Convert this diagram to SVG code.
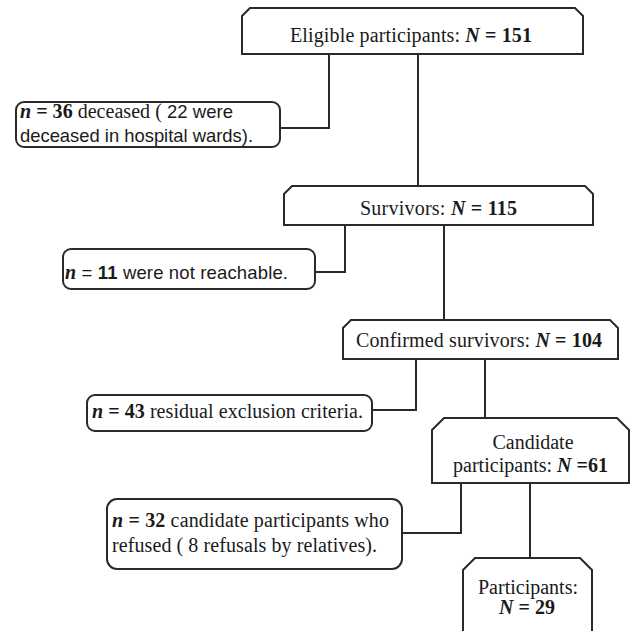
<svg xmlns="http://www.w3.org/2000/svg" width="632" height="631" viewBox="0 0 632 631">
<style>
.box{fill:#fff;stroke:#2a2a2a;stroke-width:2}
.con{fill:none;stroke:#2a2a2a;stroke-width:2}
text{fill:#1a1a1a;font-size:20px}
.s{font-family:"Liberation Serif","Times New Roman",serif}
.a{font-family:"Liberation Sans",Arial,sans-serif;font-size:18.5px}
.b{font-weight:bold}
.i{font-style:italic}
</style>
<rect width="632" height="631" fill="#fff"/>
<g id="connectors">
<polyline class="con" points="329,54 329,128 280,128"/>
<polyline class="con" points="418,54 418,186"/>
<polyline class="con" points="345,225 345,272 315,272"/>
<polyline class="con" points="444,225 444,320"/>
<polyline class="con" points="416,359 416,410 372,410"/>
<polyline class="con" points="485,359 485,418"/>
<polyline class="con" points="461,483 461,533 402,533"/>
<polyline class="con" points="530,483 530,558"/>
</g>
<g id="eligible">
<path class="box" d="M242,54 V16 L250,8 H575 L583,16 V54 Z"/>
<text class="s" x="290" y="42" textLength="242" lengthAdjust="spacing">Eligible participants: <tspan class="b i">N</tspan><tspan class="b"> = 151</tspan></text>
</g>
<g id="deceased">
<rect class="box" x="16" y="102" width="264" height="45" rx="8"/>
<text x="20" y="118" textLength="213" lengthAdjust="spacing"><tspan class="s b i">n</tspan><tspan class="s b"> = 36</tspan><tspan class="s"> deceased (</tspan><tspan class="a"> 22 were</tspan></text>
<text class="a" x="20" y="142" textLength="233" lengthAdjust="spacingAndGlyphs">deceased in hospital wards).</text>
</g>
<g id="survivors">
<path class="box" d="M284,225 V194 L292,186 H585 L593,194 V225 Z"/>
<text class="s" x="360" y="215" textLength="157" lengthAdjust="spacing">Survivors: <tspan class="b i">N</tspan><tspan class="b"> = 115</tspan></text>
</g>
<g id="not-reachable">
<rect class="box" x="63" y="249" width="252" height="40" rx="8"/>
<text x="65" y="279" textLength="223" lengthAdjust="spacing"><tspan class="s b i">n</tspan><tspan class="a"> = </tspan><tspan class="a b">11</tspan><tspan class="a"> were not reachable.</tspan></text>
</g>
<g id="confirmed">
<path class="box" d="M343,359 V328 L351,320 H610 L618,328 V359 Z"/>
<text class="s" x="356" y="347" textLength="246" lengthAdjust="spacing">Confirmed survivors: <tspan class="b i">N</tspan><tspan class="b"> = 104</tspan></text>
</g>
<g id="residual">
<rect class="box" x="87" y="395" width="285" height="36" rx="8"/>
<text class="s" x="92" y="418" textLength="271" lengthAdjust="spacing"><tspan class="b i">n</tspan><tspan class="b"> = 43</tspan> residual exclusion criteria.</text>
</g>
<g id="candidate">
<path class="box" d="M432,483 V430 L444,418 H617 L629,430 V483 Z"/>
<text class="s" x="533" y="449" text-anchor="middle">Candidate</text>
<text class="s" x="453" y="472" textLength="155" lengthAdjust="spacing">participants: <tspan class="b i">N</tspan><tspan class="b"> =61</tspan></text>
</g>
<g id="refused">
<rect class="box" x="107" y="499" width="295" height="70" rx="10"/>
<text class="s" x="112" y="527" textLength="277" lengthAdjust="spacing"><tspan class="b i">n</tspan><tspan class="b"> = 32</tspan> candidate participants who</text>
<text class="s" x="112" y="552" textLength="265" lengthAdjust="spacing">refused ( 8 refusals by relatives).</text>
</g>
<g id="participants">
<path class="box" d="M463,640 V570 L475,558 H580 L592,570 V640 Z"/>
<text class="s" x="528" y="594" text-anchor="middle">Participants:</text>
<text class="s" x="527" y="614" text-anchor="middle"><tspan class="b i">N</tspan><tspan class="b"> = 29</tspan></text>
</g>
</svg>
